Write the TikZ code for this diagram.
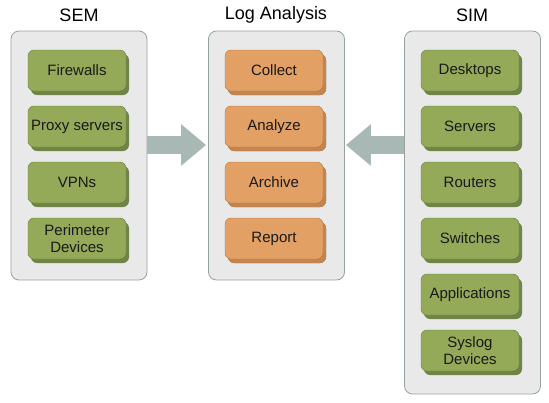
\documentclass[tikz,border=0pt]{standalone}
\usepackage{fontspec}
\setmainfont{Liberation Sans}
\usetikzlibrary{shadows,arrows.meta}

\definecolor{panelfill}{RGB}{233,233,233}
\definecolor{paneledge}{RGB}{150,162,162}
\definecolor{srcfill}{RGB}{148,170,88}
\definecolor{srcedge}{RGB}{104,124,66}
\definecolor{srcshade}{RGB}{112,132,72}
\definecolor{logfill}{RGB}{226,160,100}
\definecolor{logedge}{RGB}{178,118,66}
\definecolor{logshade}{RGB}{196,132,80}
\definecolor{feedgray}{RGB}{168,184,180}

\begin{document}
\begin{tikzpicture}[x=1pt,y=-1pt,
  title/.style={font=\fontsize{18}{20}\selectfont},
  panel/.style={draw=paneledge,fill=panelfill,rounded corners=8pt,line width=0.8pt,minimum width=136pt,inner sep=0pt},
  src/.style={draw=srcedge,fill=srcfill,rounded corners=6pt,minimum width=98pt,minimum height=41pt,inner sep=0pt,
    align=center,text=black!90,font=\fontsize{15}{17}\selectfont,
    drop shadow={shadow xshift=3pt,shadow yshift=-4pt,fill=srcshade,opacity=1}},
  logstep/.style={src,draw=logedge,fill=logfill,
    drop shadow={shadow xshift=3pt,shadow yshift=-4pt,fill=logshade,opacity=1}},
  feed/.style={draw=feedgray,line width=18pt,-{Triangle[width=40pt,length=25pt]}}]

  \useasboundingbox (0,0) rectangle (549,402);

  % Titles
  \node[title] (semtitle) at (79,15) {SEM};
  \node[title] (logtitle) at (276,15) {Log Analysis};
  \node[title] (simtitle) at (472,15) {SIM};

  % Panels
  \node[panel,minimum height=249pt] (sem) at (79,155.5) {};
  \node[panel,minimum height=249pt] (log) at (276.5,155.5) {};
  \node[panel,minimum height=363pt] (sim) at (472.5,212.5) {};

  % SEM sources
  \node[src] (fw) at (77,70.5) {Firewalls};
  \node[src] (proxy) at (77,126.5) {Proxy servers};
  \node[src] (vpn) at (77,182.5) {VPNs};
  \node[src] (perim) at (77,238.5) {Perimeter\\Devices};

  % Log analysis steps
  \node[logstep] (collect) at (274,70.5) {Collect};
  \node[logstep] (analyze) at (274,126.5) {Analyze};
  \node[logstep] (archive) at (274,182.5) {Archive};
  \node[logstep] (report) at (274,238.5) {Report};

  % SIM sources
  \node[src] (desk) at (470,70.5) {Desktops};
  \node[src] (serv) at (470,126.5) {Servers};
  \node[src] (rout) at (470,182.5) {Routers};
  \node[src] (swit) at (470,238.5) {Switches};
  \node[src] (apps) at (470,294.5) {Applications};
  \node[src] (syslog) at (470,350.5) {Syslog\\Devices};

  % Feeds into the log analysis
  \coordinate (feedl) at ([yshift=10.5pt]sem.east);
  \coordinate (feedr) at ([yshift=10.5pt]log.east);
  \draw[feed,shorten >=2pt] (feedl) -- (log.west |- feedl);
  \draw[feed,shorten >=1pt] (sim.west |- feedr) -- (feedr);

\end{tikzpicture}
\end{document}
